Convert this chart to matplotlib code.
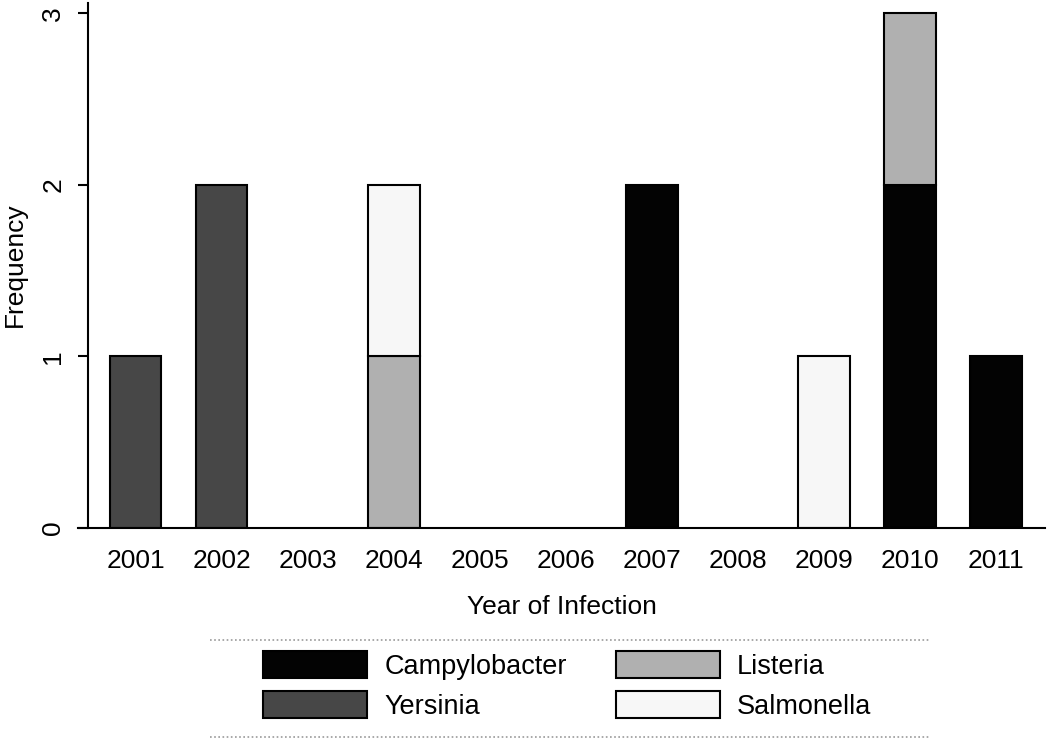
import matplotlib
matplotlib.use("Agg")
import matplotlib.pyplot as plt
from matplotlib.lines import Line2D

plt.rcParams['font.family'] = ['Liberation Sans', 'DejaVu Sans']

years = [2001, 2002, 2003, 2004, 2005, 2006, 2007, 2008, 2009, 2010, 2011]
series_names = ["Campylobacter", "Yersinia", "Listeria", "Salmonella"]
campylobacter = [0, 0, 0, 0, 0, 0, 2, 0, 0, 2, 1]
yersinia = [1, 2, 0, 0, 0, 0, 0, 0, 0, 0, 0]
listeria = [0, 0, 0, 1, 0, 0, 0, 0, 0, 1, 0]
salmonella = [0, 0, 0, 1, 0, 0, 0, 0, 1, 0, 0]
colors = ["#030303", "#474747", "#b0b0b0", "#f7f7f7"]
yticks = [0, 1, 2, 3]

fig = plt.figure(figsize=(10.5, 7.4), dpi=100)
W, H = 1050, 740
ax = fig.add_axes([78 / W, 1 - 528 / H, (1045 - 78) / W, (528 - 3) / H])

bottom = [0] * len(years)
handles = []
for name, vals, col in zip(series_names, [campylobacter, yersinia, listeria, salmonella], colors):
    xs = [y for y, v in zip(years, vals) if v > 0]
    hs = [v for v in vals if v > 0]
    bs = [b for b, v in zip(bottom, vals) if v > 0]
    ax.bar(xs, hs, bottom=bs, width=0.6, color=col, edgecolor="black", linewidth=1.5)
    bottom = [b + v for b, v in zip(bottom, vals)]
    handles.append(plt.Rectangle((0, 0), 1, 1, facecolor=col, edgecolor="black", linewidth=1.5))

ax.set_xlim(2000.33, 2011.57)
ax.set_ylim(0, 3.06)
ax.spines['top'].set_visible(False)
ax.spines['right'].set_visible(False)
ax.spines['left'].set_position(('data', 2000.45))
ax.spines['left'].set_bounds(0, 3.06)
for s in ['left', 'bottom']:
    ax.spines[s].set_linewidth(1.5)

ax.set_xticks(years)
ax.set_xticklabels([str(y) for y in years], fontsize=19)
ax.tick_params(axis='x', length=0, pad=15)
ax.set_yticks(yticks)
ax.set_yticklabels([str(t) for t in yticks], fontsize=19, rotation=90, va='center')
ax.tick_params(axis='y', length=7.5, width=1.5, pad=9)

ax.set_xlabel("Year of Infection", fontsize=19, labelpad=16)
fig.text(15 / W, 1 - 265 / H, "Frequency", rotation=90, fontsize=19, ha='center', va='center')

leg = fig.legend(handles, series_names, ncol=2, loc='upper left',
                 bbox_to_anchor=(263 / W, 1 - 651 / H), frameon=False,
                 fontsize=19.5, handlelength=3.85, handleheight=1.15,
                 handletextpad=0.63, columnspacing=1.8, labelspacing=0.42,
                 borderpad=0, borderaxespad=0)

for yy in [640, 737]:
    fig.add_artist(Line2D([210 / W, 930 / W], [1 - yy / H, 1 - yy / H],
                          transform=fig.transFigure, color="#999999",
                          linestyle=(0, (1, 1.5)), linewidth=1.2))

fig.savefig("out.png", dpi=100)
